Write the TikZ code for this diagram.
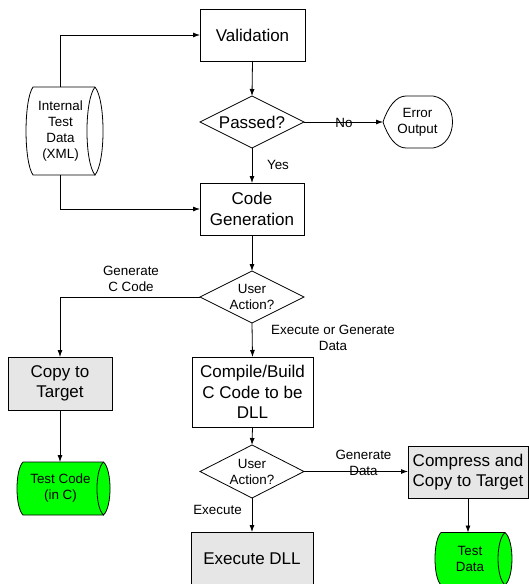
\documentclass[tikz,border=0pt]{standalone}
\usepackage{fontspec}
\setmainfont{Liberation Sans}
\usetikzlibrary{arrows.meta,shapes.geometric}
\definecolor{boxgray}{RGB}{230,230,230}
\definecolor{storegreen}{RGB}{0,255,0}
\newcommand\bigf{\fontsize{17}{20.5}\selectfont}
\newcommand\smallf{\fontsize{13.4}{16}\selectfont}
\begin{document}
\begin{tikzpicture}[x=1pt,y=-1pt,
  line width=0.8pt,
  procbox/.style={draw, rectangle, inner sep=0pt, outer sep=0pt, align=center, font=\bigf},
  grayproc/.style={procbox, fill=boxgray},
  decision/.style={draw, diamond, aspect=2, inner sep=0pt, outer sep=0pt, align=center},
  textarea/.style={rectangle, inner sep=0pt, outer sep=0pt, align=center, font=\smallf},
  lbl/.style={inner sep=0pt, align=center, font=\smallf},
  arr/.style={-{Latex[length=7pt,width=5pt]}},
]
\useasboundingbox (0,0) rectangle (529,584);

% process boxes
\node[procbox, minimum width=105pt, minimum height=52pt] (val) at (252.5,35) {Validation};
\node[decision, font=\bigf, minimum width=104pt, minimum height=52pt] (pass) at (252,122) {Passed?};
\node[procbox, minimum width=104pt, minimum height=52pt] (cg) at (252,209) {Code\\Generation};
\node[decision, font=\smallf, minimum width=104pt, minimum height=52pt] (ua1) at (252,297) {User\\Action?};
\node[grayproc, minimum width=104pt, minimum height=53pt] (copy) at (60,383.5) {Copy to\\Target};
\node[procbox, minimum width=121pt, minimum height=70pt] (comp) at (252.5,392) {Compile/Build\\C Code to be\\DLL};
\node[decision, font=\smallf, minimum width=104pt, minimum height=53pt] (ua2) at (252,471.5) {User\\Action?};
\node[grayproc, minimum width=120pt, minimum height=52pt] (cmp) at (468,472) {Compress and\\Copy to Target};
\node[grayproc, minimum width=122pt, minimum height=53pt] (exe) at (252,558.5) {Execute DLL};

% Internal Test Data (white drum)
\draw (95,87) -- (33,87) .. controls (23.7,100.2) and (23.7,161.8) .. (33,175) -- (95,175);
\draw (95,87) .. controls (105.7,100.2) and (105.7,161.8) .. (95,175)
  .. controls (84.3,161.8) and (84.3,100.2) .. (95,87);
\node[textarea, minimum width=62pt, minimum height=88pt] (itd) at (60.5,131) {Internal\\Test\\Data\\(XML)};

% Error Output (display)
\draw (383,122) .. controls (388,107) and (396,96) .. (406,96) -- (433,96)
  .. controls (459,100) and (459,144) .. (433,148) -- (406,148)
  .. controls (396,148) and (388,137) .. (383,122);
\node[textarea, minimum width=69pt, minimum height=52pt] (err) at (417.5,122) {Error\\Output};
\coordinate (errin) at (383,122);

% Test Code (green drum)
\fill[storegreen] (103.5,462) .. controls (112.2,470) and (112.2,507) .. (103.5,515)
  -- (23,515) .. controls (15,507) and (15,470) .. (23,462) -- cycle;
\draw (103.5,462) -- (23,462) .. controls (15,470) and (15,507) .. (23,515) -- (103.5,515);
\draw (103.5,462) .. controls (112.2,470) and (112.2,507) .. (103.5,515)
  .. controls (94.8,507) and (94.8,470) .. (103.5,462);
\node[textarea, minimum width=80pt, minimum height=53pt] (tc) at (60.5,488.5) {Test Code\\(in C)};

% Test Data (green drum)
\fill[storegreen] (505,532.5) .. controls (514.3,540.4) and (514.3,577.1) .. (505,585)
  -- (441,585) .. controls (433,577.1) and (433,540.4) .. (441,532.5) -- cycle;
\draw (505,532.5) -- (441,532.5) .. controls (433,540.4) and (433,577.1) .. (441,585) -- (505,585);
\draw (505,532.5) .. controls (514.3,540.4) and (514.3,577.1) .. (505,585)
  .. controls (495.7,577.1) and (495.7,540.4) .. (505,532.5);
\node[textarea, minimum width=64pt, minimum height=52.5pt] (td) at (470,558.75) {Test\\Data};

% connectors
\draw[arr] (itd.north) |- (val.west);
\draw[arr] (itd.south) |- (cg.west);
\draw[arr] (val.south) -- (pass.north);
\draw[arr] (pass.east) -- (errin);
\draw[arr] (pass.south) -- (cg.north);
\draw[arr] (cg.south) -- (ua1.north);
\draw[arr] (ua1.west) -| (copy.north);
\draw[arr] (copy.south) -- (copy.south |- tc.north);
\draw[arr] (ua1.south) -- (comp.north);
\draw[arr] (comp.south) -- (ua2.north);
\draw[arr] (ua2.east) -- (ua2.east -| cmp.west);
\draw[arr] (ua2.south) -- (exe.north);
\draw[arr] (cmp.south) -- (cmp.south |- td.north);

% labels
\node[lbl] (lno) at (344,122.5) {No};
\node[lbl] (lyes) at (278,165) {Yes};
\node[lbl] (lgc) at (131,279) {Generate\\C Code};
\node[lbl] (leg) at (333,338) {Execute or Generate\\Data};
\node[lbl] (lgd) at (363.5,462.7) {Generate\\Data};
\node[lbl] (lex) at (217.5,510) {Execute};
\end{tikzpicture}
\end{document}
